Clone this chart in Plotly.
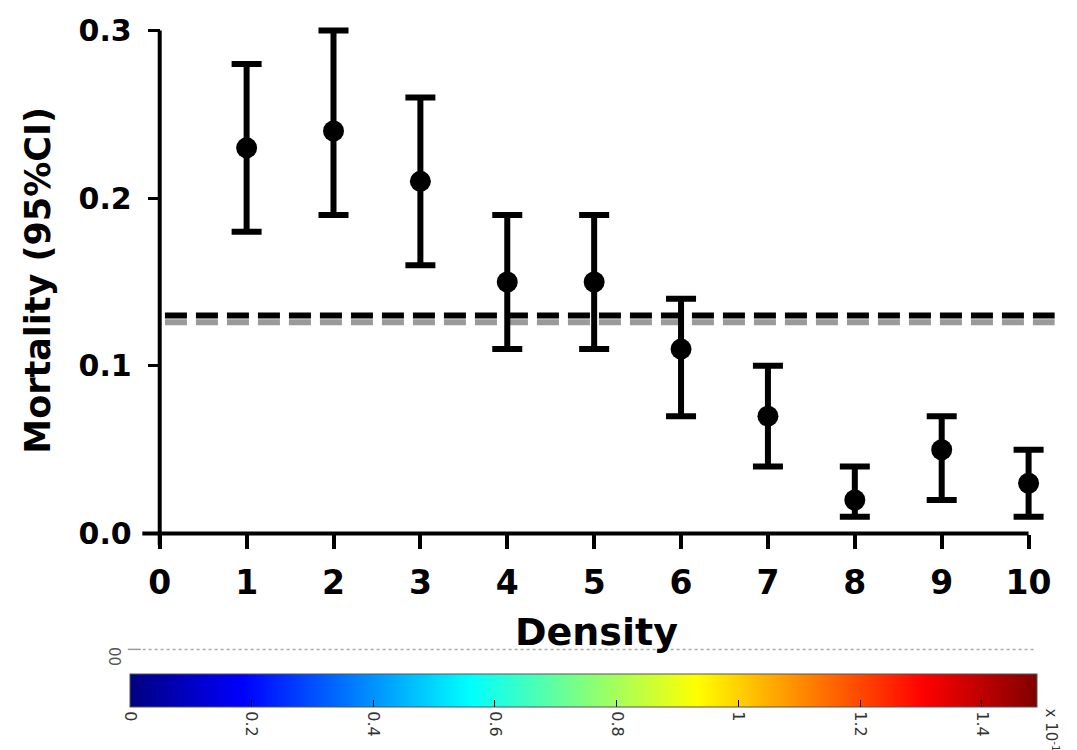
import plotly.graph_objects as go

# ---- data ----
density = [1, 2, 3, 4, 5, 6, 7, 8, 9, 10]
mortality = [0.23, 0.24, 0.21, 0.15, 0.15, 0.11, 0.07, 0.02, 0.05, 0.03]
ci_upper = [0.28, 0.30, 0.26, 0.19, 0.19, 0.14, 0.10, 0.04, 0.07, 0.05]
ci_lower = [0.18, 0.19, 0.16, 0.11, 0.11, 0.07, 0.04, 0.01, 0.02, 0.01]
ref_x = [0.06, 10.3]
ref_black = 0.13
ref_gray = 0.126
x_ticks = [0, 1, 2, 3, 4, 5, 6, 7, 8, 9, 10]
y_ticks = [0.0, 0.1, 0.2, 0.3]
cbar_ticks = [0, 0.2, 0.4, 0.6, 0.8, 1, 1.2, 1.4]
cbar_tick_text = ["0", "0.2", "0.4", "0.6", "0.8", "1", "1.2", "1.4"]
cbar_range = [0, 1.49]

err_plus = [u - m for u, m in zip(ci_upper, mortality)]
err_minus = [m - l for m, l in zip(mortality, ci_lower)]

XR = [-0.25, 10.35]
YR = [-0.008, 0.305]

jet = [[0.0, "rgb(0,0,128)"], [0.125, "rgb(0,0,255)"], [0.375, "rgb(0,255,255)"],
       [0.625, "rgb(255,255,0)"], [0.875, "rgb(255,0,0)"], [1.0, "rgb(128,0,0)"]]

FONT = "DejaVu Sans, sans-serif"

fig = go.Figure()

fig.add_trace(go.Scatter(x=ref_x, y=[ref_gray, ref_gray], mode="lines",
                         line=dict(color="#9a9a9a", width=6, dash="22px,9px"),
                         showlegend=False, hoverinfo="skip"))
fig.add_trace(go.Scatter(x=ref_x, y=[ref_black, ref_black], mode="lines",
                         line=dict(color="black", width=6, dash="22px,9px"),
                         showlegend=False, hoverinfo="skip"))

fig.add_trace(go.Scatter(
    x=density, y=mortality, mode="markers",
    marker=dict(color="black", size=21, symbol="circle"),
    error_y=dict(type="data", symmetric=False, array=err_plus, arrayminus=err_minus,
                 color="black", thickness=6, width=15),
    showlegend=False))

# colorbar carrier
fig.add_trace(go.Scatter(
    x=[None, None], y=[None, None], mode="markers",
    marker=dict(color=cbar_range, cmin=cbar_range[0], cmax=cbar_range[1],
                colorscale=jet, showscale=True,
                colorbar=dict(orientation="h", x=0.4834, xanchor="center",
                              y=-0.2427, yanchor="top", len=907, lenmode="pixels",
                              thickness=33, thicknessmode="pixels",
                              outlinewidth=1, outlinecolor="#555",
                              ticks="inside", ticklen=7, tickcolor="black", tickwidth=1,
                              tickvals=cbar_ticks, ticktext=cbar_tick_text,
                              tickangle=90, xpad=0, ypad=0,
                              tickfont=dict(family=FONT, size=16, color="#333"))),
    showlegend=False, hoverinfo="skip"))

fig.update_layout(
    width=1077, height=750, autosize=False,
    margin=dict(l=138, r=18, t=22, b=203, autoexpand=False),
    plot_bgcolor="white", paper_bgcolor="white",
    xaxis=dict(range=XR, anchor="free", position=0.008 / 0.313,
               tickvals=x_ticks, ticks="outside", ticklen=14, tickwidth=4, tickcolor="black",
               showline=False, showgrid=False, zeroline=False, ticklabelstandoff=6,
               tickfont=dict(family=FONT, size=33, color="black", weight="bold")),
    yaxis=dict(range=YR, anchor="free", position=0.25 / 10.6,
               tickvals=y_ticks, tickformat=".1f", ticks="outside", ticklen=12, tickwidth=3,
               tickcolor="black", showline=False, showgrid=False, zeroline=False,
               ticklabelstandoff=10,
               tickfont=dict(family=FONT, size=30, color="black", weight="bold")),
    shapes=[
        dict(type="line", xref="x", yref="y", x0=-0.2, x1=10, y0=0, y1=0,
             line=dict(color="black", width=4)),
        dict(type="line", xref="x", yref="y", x0=0, x1=0, y0=-0.007, y1=0.3,
             line=dict(color="black", width=4)),
        dict(type="line", xref="paper", yref="paper", x0=0.005, x1=0.9736, y0=-0.195, y1=-0.195,
             line=dict(color="#aaaaaa", width=1.5, dash="dot")),
        dict(type="line", xref="paper", yref="paper", x0=-0.011, x1=0.003, y0=-0.195, y1=-0.195,
             line=dict(color="#999999", width=1.5)),
    ],
    annotations=[
        dict(text="Mortality (95%CI)", x=-0.1089, y=0.5086, xref="paper", yref="paper",
             xanchor="center", yanchor="middle", textangle=-90, showarrow=False,
             font=dict(family=FONT, size=35, color="black", weight="bold")),
        dict(text="Density", x=0.498, y=-0.162, xref="paper", yref="paper",
             xanchor="center", yanchor="middle",
             showarrow=False, font=dict(family=FONT, size=38, color="black", weight="bold")),
        dict(text="00", x=-0.0253, y=-0.209, xref="paper", yref="paper", textangle=90,
             xanchor="center", yanchor="middle",
             showarrow=False, font=dict(family=FONT, size=15, color="#555")),
        dict(text="x 10<sup>-10</sup>", x=0.9920, y=-0.3032, xref="paper", yref="paper",
             xanchor="center", yanchor="top", textangle=90, showarrow=False,
             font=dict(family=FONT, size=15, color="#333")),
    ],
)

fig.write_html("out.html")
